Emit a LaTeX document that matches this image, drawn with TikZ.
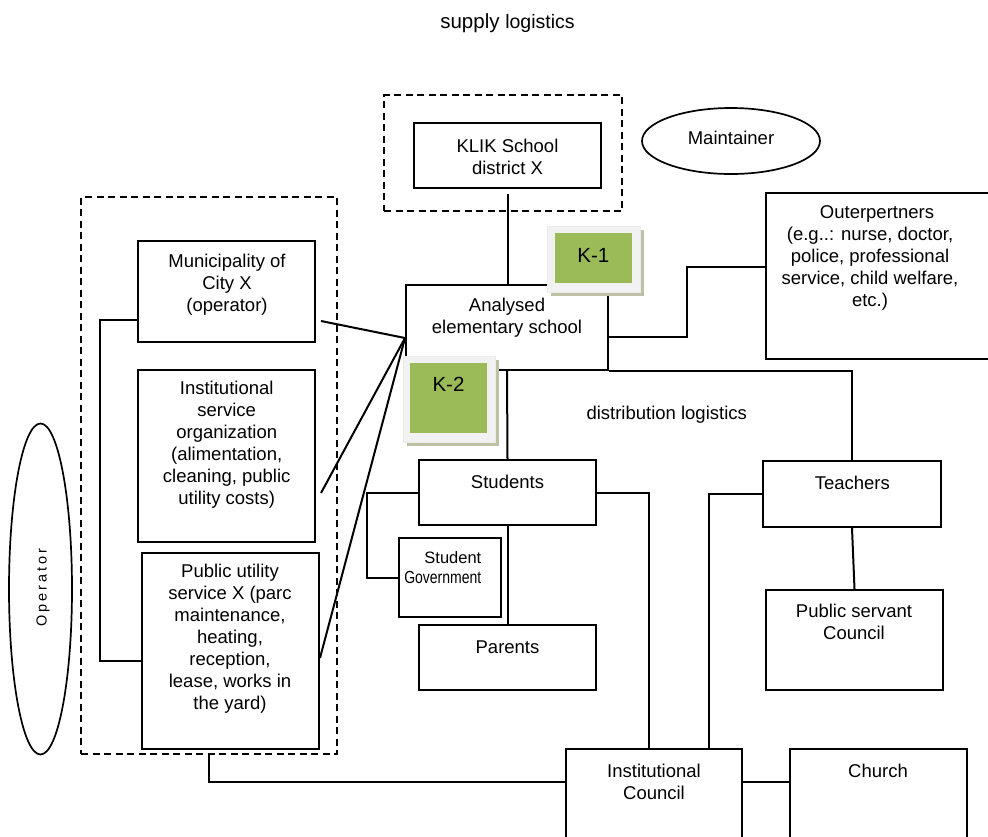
\documentclass[tikz,border=0pt]{standalone}
\usepackage{fontspec}
\setmainfont{Liberation Sans}
\usepackage{graphicx}
\usetikzlibrary{shapes.geometric}
\definecolor{kgreen}{HTML}{9BBB59}
\definecolor{kframe}{HTML}{F2F2F2}
\definecolor{kshadow}{HTML}{BEC1A3}
\begin{document}
\begin{tikzpicture}[x=1pt,y=-1pt,
  box/.style={draw, line width=2pt, rectangle, inner sep=0pt},
  dbox/.style={draw, line width=2pt, dash pattern=on 7pt off 4.5pt, rectangle, inner sep=0pt},
  ell/.style={draw, line width=1.7pt, ellipse, inner sep=0pt},
  sz/.style 2 args={minimum width=#1pt, minimum height=#2pt},
  conn/.style={line width=2pt},
  txt/.style={align=center, font=\fontsize{18.5pt}{22pt}\selectfont, inner sep=0pt},
  ktxt/.style={font=\fontsize{20.5pt}{24pt}\selectfont, inner sep=0pt},
  kgr/.style={fill=kgreen, draw=none, rectangle, inner sep=0pt},
]
\clip (0,0) rectangle (988,836);
\fill[white] (0,0) rectangle (988,836);

% title
\node[inner sep=0pt] (title) at (507.5,22.8) {\fontsize{20.5pt}{24pt}\selectfont supply \fontsize{19.5pt}{24pt}\selectfont logistics};

% boxes
\node[dbox, sz={238}{116}] (klikdash) at (503,153) {};
\node[box, sz={187}{65}] (klik) at (507.5,155.5) {};
\node[ell, sz={178}{66}] (maint) at (731,141) {};
\node[box, sz={234}{166}] (outer) at (883,276) {};
\node[box, sz={202}{85}] (analysed) at (507,327.5) {};
\node[dbox, sz={256}{557}] (leftdash) at (209,475.5) {};
\node[box, sz={177}{101}] (muni) at (226.5,291.5) {};
\node[box, sz={177}{172}] (inst) at (226.5,456) {};
\node[box, sz={177}{196}] (pub) at (230.5,651) {};
\node[ell, sz={63}{331}] (operator) at (40.5,589) {};
\node[box, sz={177}{65}] (students) at (507.5,492.5) {};
\node[box, sz={102}{79}] (stgov) at (450,577.5) {};
\node[box, sz={177}{65}] (parents) at (507.5,657.5) {};
\node[box, sz={178}{66}] (teachers) at (852,494) {};
\node[box, sz={177}{100}] (pubserv) at (854.5,640) {};
\node[box, sz={176}{101}] (council) at (654,799.5) {};
\node[box, sz={177}{101}] (church) at (878.5,799.5) {};

% texts
\node[txt] (klik-t) at (507.5,157.3) {KLIK School\\district X};
\node[txt] (maint-t) at (731,138) {Maintainer};
\node[txt] (outer-t) at (870,258) {\hspace*{14pt}Outerpertners\\(e.g..: nurse, doctor,\\police, professional\\service, child welfare,\\etc.)};
\node[txt] (analysed-t) at (507,317.8) {Analysed\\elementary school};
\node[txt] (muni-t) at (227,285) {Municipality of\\City X\\(operator)};
\node[txt] (inst-t) at (226.7,444.7) {Institutional\\service\\organization\\(alimentation,\\cleaning, public\\utility costs)};
\node[txt] (pub-t) at (230,638.7) {Public utility\\service X (parc\\maintenance,\\heating,\\reception,\\lease, works in\\the yard)};
\node[txt] (dist-t) at (666.7,415) {distribution logistics};
\node[txt] (students-t) at (507.5,482) {Students};
\node[txt] (parents-t) at (507.5,647.7) {Parents};
\node[txt] (teachers-t) at (852.3,483) {Teachers};
\node[txt] (pubserv-t) at (854,622) {Public servant\\Council};
\node[txt] (council-t) at (654,782) {Institutional\\Council};
\node[txt] (church-t) at (878,770.7) {Church};
\node[inner sep=0pt, align=right, anchor=east, font=\fontsize{17.5pt}{20pt}\selectfont] (stgov-t) at (481.5,568)
  {{\fontsize{16.5pt}{20pt}\selectfont Student}\\\scalebox{0.8}[1]{Government}};
\node[inner sep=0pt, rotate=90, font=\fontsize{14.5pt}{17pt}\selectfont] (operator-t) at (43,587.5)
  {O\kern3pt p\kern3pt e\kern3pt r\kern3pt a\kern3pt t\kern3pt o\kern3pt r};

% connectors
\coordinate (a1) at (687,337);
\coordinate (a2) at (687,267);
\coordinate (s1) at (367,493);
\coordinate (b1) at (0,782);
\coordinate (m1) at (100,320);
\coordinate (m2) at (100,661);

\draw[conn, shorten <=5pt] (klik.south) -- (klik.south |- analysed.north);
\draw[conn] (a1 -| analysed.east) -- (a1) -- (a2) -- (a2 -| outer.west);
\draw[conn] (analysed.south east) -| (teachers.north);
\draw[conn] (analysed.south) -- (students.north);
\draw[conn] (students.south) -- (parents.north);
\draw[conn] (students.west) -- (students.west -| s1) |- (stgov.west);
\draw[conn] (students.east) -| ([xshift=-5pt]council.north);
\draw[conn] (teachers.west) -| ([xshift=55pt]council.north);
\draw[conn] (teachers.south) -- (pubserv.north);
\draw[conn] (leftdash.south) |- (b1 -| council.west);
\draw[conn] (b1 -| council.east) -- (b1 -| church.west);
\draw[conn] (m1 -| muni.west) -- (m1) -- (m2) -- (m2 -| pub.west);
\draw[conn] ([shift={(5,29.5)}]muni.east) -- ([shift={(0,10.5)}]analysed.west);
\draw[conn] ([shift={(5,37)}]inst.east) -- ([shift={(0,10.5)}]analysed.west);
\draw[conn] ([shift={(0,7)}]pub.east) -- ([shift={(0,10.5)}]analysed.west);

% K boxes
\fill[kshadow] (551,230) rectangle (643.5,295.5);
\fill[kframe, draw=black!8, line width=0.5pt] (547,226) rectangle (640,292);
\node[kgr, sz={77}{50}] (k1) at (593.5,258) {};
\node[ktxt] (k1-t) at (593.3,255.8) {K-1};
\fill[kshadow] (407,360) rectangle (498.5,445.5);
\fill[kframe, draw=black!8, line width=0.5pt] (403,356) rectangle (495,442);
\node[kgr, sz={77}{70}] (k2) at (448.7,398) {};
\node[ktxt] (k2-t) at (448.5,384.5) {K-2};
\end{tikzpicture}
\end{document}
